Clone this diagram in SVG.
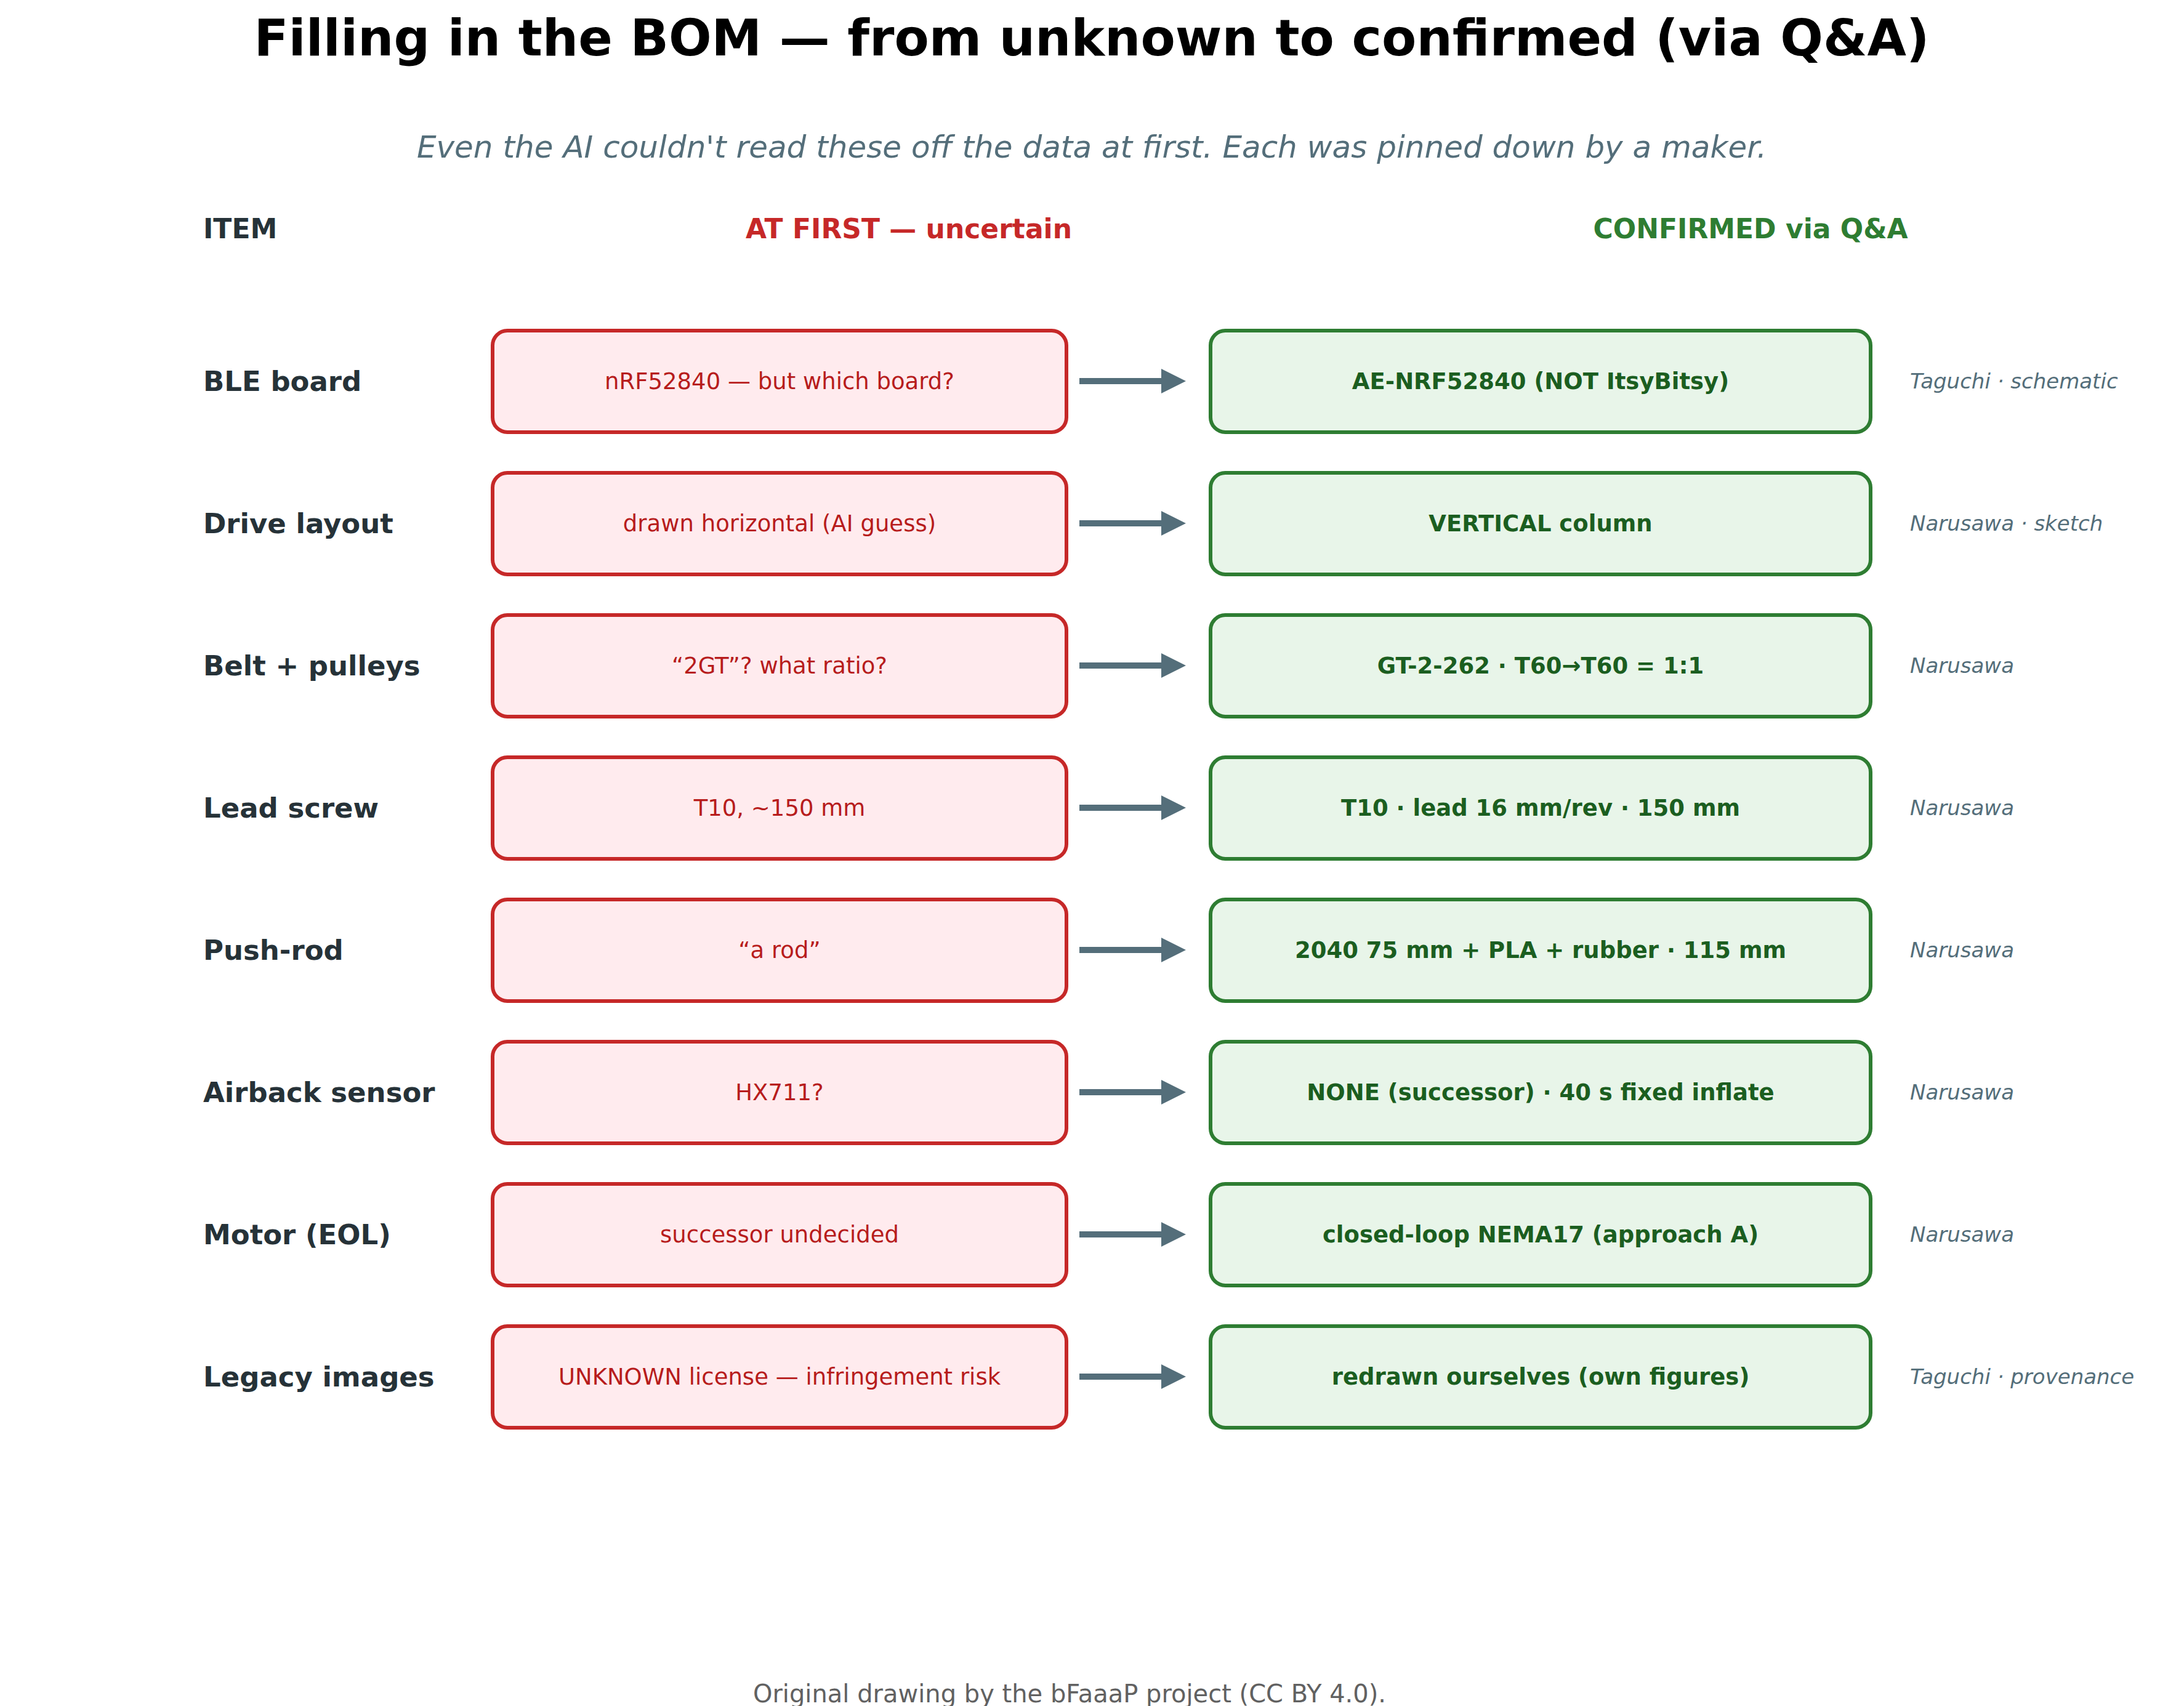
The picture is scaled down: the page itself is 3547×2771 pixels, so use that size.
<svg xmlns="http://www.w3.org/2000/svg" width="3547" height="2771" viewBox="0 0 3547 2771">
<defs>
<style>
text{font-family:"DejaVu Sans","Liberation Sans",sans-serif}
.item{font-size:45px;font-weight:bold;fill:#263238}
.r rect{fill:#ffebee;stroke:#c62828;stroke-width:6}
.r text{font-size:37px;fill:#b71c1c;text-anchor:middle}
.g rect{fill:#e8f5e9;stroke:#2e7d32;stroke-width:6}
.g text{font-size:37px;font-weight:bold;fill:#1b5e20;text-anchor:middle}
.note{font-size:34px;font-style:italic;fill:#546e7a}
.arr{stroke:#546e7a;stroke-width:10;fill:none;marker-end:url(#ah)}
</style>
<marker id="ah" viewBox="0 0 10 10" refX="6" refY="5" markerWidth="4" markerHeight="4" orient="auto" markerUnits="strokeWidth"><path d="M0,0 L10,5 L0,10 z" fill="#546e7a"/></marker>
</defs>
<rect width="3547" height="2771" fill="#fff"/>
<text x="1773" y="90" font-size="82" font-weight="bold" text-anchor="middle" fill="#000">Filling in the BOM — from unknown to confirmed (via Q&amp;A)</text>
<text x="1773" y="256" font-size="50" font-style="italic" text-anchor="middle" fill="#546e7a">Even the AI couldn't read these off the data at first. Each was pinned down by a maker.</text>
<text x="330" y="387" font-size="44" font-weight="bold" fill="#263238">ITEM</text>
<text x="1476" y="387" font-size="44" font-weight="bold" fill="#c62828" text-anchor="middle">AT FIRST — uncertain</text>
<text x="2843" y="387" font-size="44" font-weight="bold" fill="#2e7d32" text-anchor="middle">CONFIRMED via Q&amp;A</text>
<g id="connectors">
<line class="arr" x1="1753" y1="619" x2="1910" y2="619"/>
<line class="arr" x1="1753" y1="850" x2="1910" y2="850"/>
<line class="arr" x1="1753" y1="1081" x2="1910" y2="1081"/>
<line class="arr" x1="1753" y1="1312" x2="1910" y2="1312"/>
<line class="arr" x1="1753" y1="1543" x2="1910" y2="1543"/>
<line class="arr" x1="1753" y1="1774" x2="1910" y2="1774"/>
<line class="arr" x1="1753" y1="2005" x2="1910" y2="2005"/>
<line class="arr" x1="1753" y1="2236" x2="1910" y2="2236"/>
</g>
<g id="row1"><text class="item" x="330" y="635">BLE board</text>
<g class="r"><rect x="800" y="537" width="932" height="165" rx="24"/><text x="1266" y="632">nRF52840 — but which board?</text></g>
<g class="g"><rect x="1966" y="537" width="1072" height="165" rx="24"/><text x="2502" y="632">AE-NRF52840 (NOT ItsyBitsy)</text></g>
<text class="note" x="3102" y="631">Taguchi · schematic</text></g>
<g id="row2"><text class="item" x="330" y="866">Drive layout</text>
<g class="r"><rect x="800" y="768" width="932" height="165" rx="24"/><text x="1266" y="863">drawn horizontal (AI guess)</text></g>
<g class="g"><rect x="1966" y="768" width="1072" height="165" rx="24"/><text x="2502" y="863">VERTICAL column</text></g>
<text class="note" x="3102" y="862">Narusawa · sketch</text></g>
<g id="row3"><text class="item" x="330" y="1097">Belt + pulleys</text>
<g class="r"><rect x="800" y="999" width="932" height="165" rx="24"/><text x="1266" y="1094">“2GT”? what ratio?</text></g>
<g class="g"><rect x="1966" y="999" width="1072" height="165" rx="24"/><text x="2502" y="1094">GT-2-262 · T60→T60 = 1:1</text></g>
<text class="note" x="3102" y="1093">Narusawa</text></g>
<g id="row4"><text class="item" x="330" y="1328">Lead screw</text>
<g class="r"><rect x="800" y="1230" width="932" height="165" rx="24"/><text x="1266" y="1325">T10, ~150 mm</text></g>
<g class="g"><rect x="1966" y="1230" width="1072" height="165" rx="24"/><text x="2502" y="1325">T10 · lead 16 mm/rev · 150 mm</text></g>
<text class="note" x="3102" y="1324">Narusawa</text></g>
<g id="row5"><text class="item" x="330" y="1559">Push-rod</text>
<g class="r"><rect x="800" y="1461" width="932" height="165" rx="24"/><text x="1266" y="1556">“a rod”</text></g>
<g class="g"><rect x="1966" y="1461" width="1072" height="165" rx="24"/><text x="2502" y="1556">2040 75 mm + PLA + rubber · 115 mm</text></g>
<text class="note" x="3102" y="1555">Narusawa</text></g>
<g id="row6"><text class="item" x="330" y="1790">Airback sensor</text>
<g class="r"><rect x="800" y="1692" width="932" height="165" rx="24"/><text x="1266" y="1787">HX711?</text></g>
<g class="g"><rect x="1966" y="1692" width="1072" height="165" rx="24"/><text x="2502" y="1787">NONE (successor) · 40 s fixed inflate</text></g>
<text class="note" x="3102" y="1786">Narusawa</text></g>
<g id="row7"><text class="item" x="330" y="2021">Motor (EOL)</text>
<g class="r"><rect x="800" y="1923" width="932" height="165" rx="24"/><text x="1266" y="2018">successor undecided</text></g>
<g class="g"><rect x="1966" y="1923" width="1072" height="165" rx="24"/><text x="2502" y="2018">closed-loop NEMA17 (approach A)</text></g>
<text class="note" x="3102" y="2017">Narusawa</text></g>
<g id="row8"><text class="item" x="330" y="2252">Legacy images</text>
<g class="r"><rect x="800" y="2154" width="932" height="165" rx="24"/><text x="1266" y="2249">UNKNOWN license — infringement risk</text></g>
<g class="g"><rect x="1966" y="2154" width="1072" height="165" rx="24"/><text x="2502" y="2249">redrawn ourselves (own figures)</text></g>
<text class="note" x="3102" y="2248">Taguchi · provenance</text></g>
<text x="1737" y="2765" font-size="40" text-anchor="middle" fill="#616161">Original drawing by the bFaaaP project (CC BY 4.0).</text>
</svg>
